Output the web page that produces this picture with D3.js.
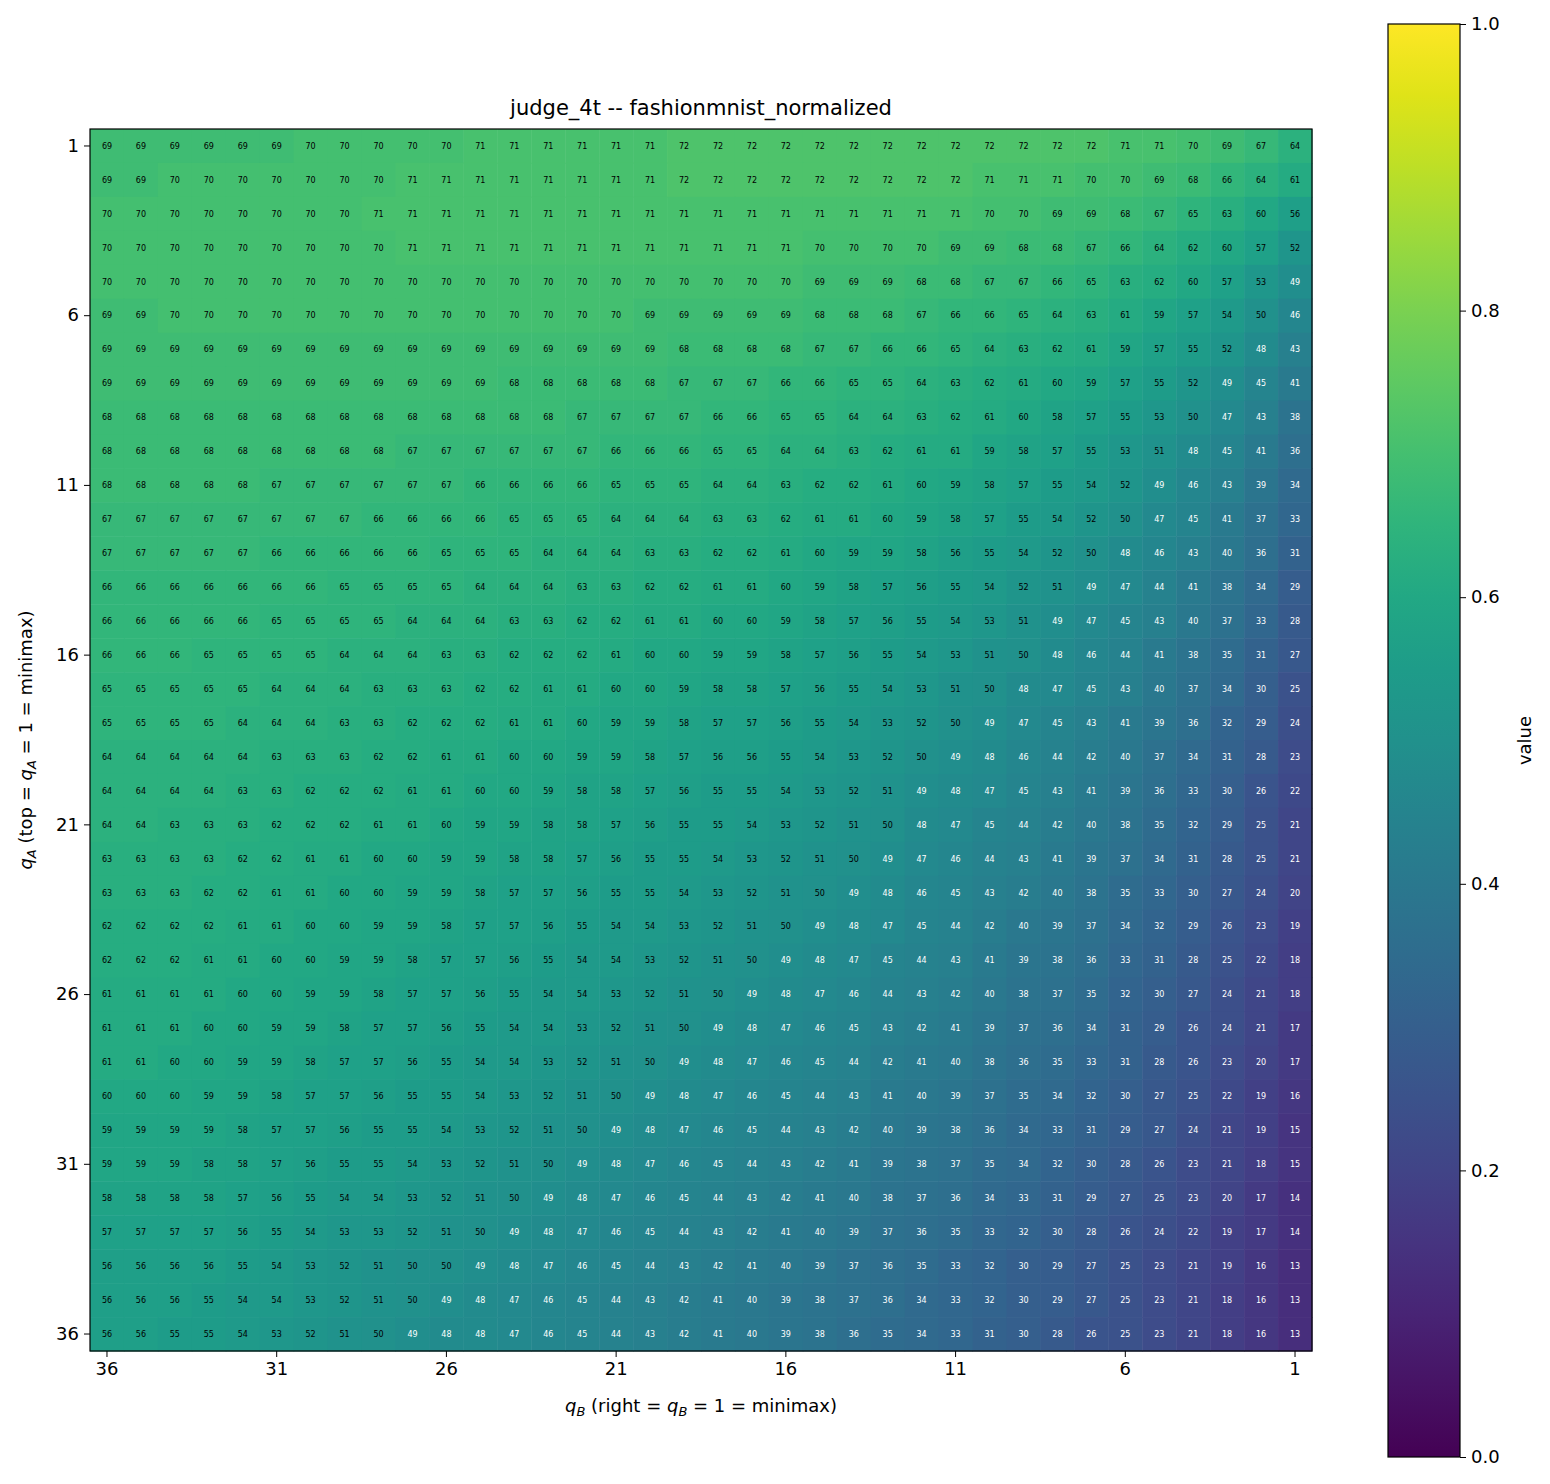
<!DOCTYPE html>
<html>
<head>
<meta charset="utf-8">
<script src="https://cdn.jsdelivr.net/npm/d3@7"></script>
<style>
  body { margin: 0; background: #fff; }
  text { font-family: "DejaVu Sans", sans-serif; }
</style>
</head>
<body>
<svg id="chart" width="1550" height="1484"></svg>
<script>
'use strict';

// qB labels left -> right, qA labels top -> bottom
var qB = d3.range(36, 0, -1);
var qA = d3.range(1, 37);

// values (percent), one string per qA row, columns qB = 36 .. 1
var rows = [
  "69 69 69 69 69 69 70 70 70 70 70 71 71 71 71 71 71 72 72 72 72 72 72 72 72 72 72 72 72 72 71 71 70 69 67 64",
  "69 69 70 70 70 70 70 70 70 71 71 71 71 71 71 71 71 72 72 72 72 72 72 72 72 72 71 71 71 70 70 69 68 66 64 61",
  "70 70 70 70 70 70 70 70 71 71 71 71 71 71 71 71 71 71 71 71 71 71 71 71 71 71 70 70 69 69 68 67 65 63 60 56",
  "70 70 70 70 70 70 70 70 70 71 71 71 71 71 71 71 71 71 71 71 71 70 70 70 70 69 69 68 68 67 66 64 62 60 57 52",
  "70 70 70 70 70 70 70 70 70 70 70 70 70 70 70 70 70 70 70 70 70 69 69 69 68 68 67 67 66 65 63 62 60 57 53 49",
  "69 69 70 70 70 70 70 70 70 70 70 70 70 70 70 70 69 69 69 69 69 68 68 68 67 66 66 65 64 63 61 59 57 54 50 46",
  "69 69 69 69 69 69 69 69 69 69 69 69 69 69 69 69 69 68 68 68 68 67 67 66 66 65 64 63 62 61 59 57 55 52 48 43",
  "69 69 69 69 69 69 69 69 69 69 69 69 68 68 68 68 68 67 67 67 66 66 65 65 64 63 62 61 60 59 57 55 52 49 45 41",
  "68 68 68 68 68 68 68 68 68 68 68 68 68 68 67 67 67 67 66 66 65 65 64 64 63 62 61 60 58 57 55 53 50 47 43 38",
  "68 68 68 68 68 68 68 68 68 67 67 67 67 67 67 66 66 66 65 65 64 64 63 62 61 61 59 58 57 55 53 51 48 45 41 36",
  "68 68 68 68 68 67 67 67 67 67 67 66 66 66 66 65 65 65 64 64 63 62 62 61 60 59 58 57 55 54 52 49 46 43 39 34",
  "67 67 67 67 67 67 67 67 66 66 66 66 65 65 65 64 64 64 63 63 62 61 61 60 59 58 57 55 54 52 50 47 45 41 37 33",
  "67 67 67 67 67 66 66 66 66 66 65 65 65 64 64 64 63 63 62 62 61 60 59 59 58 56 55 54 52 50 48 46 43 40 36 31",
  "66 66 66 66 66 66 66 65 65 65 65 64 64 64 63 63 62 62 61 61 60 59 58 57 56 55 54 52 51 49 47 44 41 38 34 29",
  "66 66 66 66 66 65 65 65 65 64 64 64 63 63 62 62 61 61 60 60 59 58 57 56 55 54 53 51 49 47 45 43 40 37 33 28",
  "66 66 66 65 65 65 65 64 64 64 63 63 62 62 62 61 60 60 59 59 58 57 56 55 54 53 51 50 48 46 44 41 38 35 31 27",
  "65 65 65 65 65 64 64 64 63 63 63 62 62 61 61 60 60 59 58 58 57 56 55 54 53 51 50 48 47 45 43 40 37 34 30 25",
  "65 65 65 65 64 64 64 63 63 62 62 62 61 61 60 59 59 58 57 57 56 55 54 53 52 50 49 47 45 43 41 39 36 32 29 24",
  "64 64 64 64 64 63 63 63 62 62 61 61 60 60 59 59 58 57 56 56 55 54 53 52 50 49 48 46 44 42 40 37 34 31 28 23",
  "64 64 64 64 63 63 62 62 62 61 61 60 60 59 58 58 57 56 55 55 54 53 52 51 49 48 47 45 43 41 39 36 33 30 26 22",
  "64 64 63 63 63 62 62 62 61 61 60 59 59 58 58 57 56 55 55 54 53 52 51 50 48 47 45 44 42 40 38 35 32 29 25 21",
  "63 63 63 63 62 62 61 61 60 60 59 59 58 58 57 56 55 55 54 53 52 51 50 49 47 46 44 43 41 39 37 34 31 28 25 21",
  "63 63 63 62 62 61 61 60 60 59 59 58 57 57 56 55 55 54 53 52 51 50 49 48 46 45 43 42 40 38 35 33 30 27 24 20",
  "62 62 62 62 61 61 60 60 59 59 58 57 57 56 55 54 54 53 52 51 50 49 48 47 45 44 42 40 39 37 34 32 29 26 23 19",
  "62 62 62 61 61 60 60 59 59 58 57 57 56 55 54 54 53 52 51 50 49 48 47 45 44 43 41 39 38 36 33 31 28 25 22 18",
  "61 61 61 61 60 60 59 59 58 57 57 56 55 54 54 53 52 51 50 49 48 47 46 44 43 42 40 38 37 35 32 30 27 24 21 18",
  "61 61 61 60 60 59 59 58 57 57 56 55 54 54 53 52 51 50 49 48 47 46 45 43 42 41 39 37 36 34 31 29 26 24 21 17",
  "61 61 60 60 59 59 58 57 57 56 55 54 54 53 52 51 50 49 48 47 46 45 44 42 41 40 38 36 35 33 31 28 26 23 20 17",
  "60 60 60 59 59 58 57 57 56 55 55 54 53 52 51 50 49 48 47 46 45 44 43 41 40 39 37 35 34 32 30 27 25 22 19 16",
  "59 59 59 59 58 57 57 56 55 55 54 53 52 51 50 49 48 47 46 45 44 43 42 40 39 38 36 34 33 31 29 27 24 21 19 15",
  "59 59 59 58 58 57 56 55 55 54 53 52 51 50 49 48 47 46 45 44 43 42 41 39 38 37 35 34 32 30 28 26 23 21 18 15",
  "58 58 58 58 57 56 55 54 54 53 52 51 50 49 48 47 46 45 44 43 42 41 40 38 37 36 34 33 31 29 27 25 23 20 17 14",
  "57 57 57 57 56 55 54 53 53 52 51 50 49 48 47 46 45 44 43 42 41 40 39 37 36 35 33 32 30 28 26 24 22 19 17 14",
  "56 56 56 56 55 54 53 52 51 50 50 49 48 47 46 45 44 43 42 41 40 39 37 36 35 33 32 30 29 27 25 23 21 19 16 13",
  "56 56 56 55 54 54 53 52 51 50 49 48 47 46 45 44 43 42 41 40 39 38 37 36 34 33 32 30 29 27 25 23 21 18 16 13",
  "56 56 55 55 54 53 52 51 50 49 48 48 47 46 45 44 43 42 41 40 39 38 36 35 34 33 31 30 28 26 25 23 21 18 16 13"
];

var xTicks = [36, 31, 26, 21, 16, 11, 6, 1];
var yTicks = [1, 6, 11, 16, 21, 26, 31, 36];
var cbTicks = [0, 0.2, 0.4, 0.6, 0.8, 1.0];

var cells = [];
rows.forEach(function (r, i) {
  r.split(" ").forEach(function (v, j) {
    cells.push({ a: qA[i], b: qB[j], v: +v });
  });
});

var svg = d3.select("#chart");
var plotLeft = 90, plotTop = 129, size = 1222;

var x = d3.scaleBand().domain(qB).range([plotLeft, plotLeft + size]);
var y = d3.scaleBand().domain(qA).range([plotTop, plotTop + size]);
var color = d3.scaleSequential(d3.interpolateViridis).domain([0, 1]);

svg.append("g").selectAll("rect")
  .data(cells).enter().append("rect")
  .attr("x", function (d) { return x(d.b); })
  .attr("y", function (d) { return y(d.a); })
  .attr("width", x.bandwidth() + 0.5)
  .attr("height", y.bandwidth() + 0.5)
  .attr("fill", function (d) { return color(d.v / 100); });

svg.append("g").selectAll("text")
  .data(cells).enter().append("text")
  .attr("x", function (d) { return x(d.b) + x.bandwidth() / 2; })
  .attr("y", function (d) { return y(d.a) + y.bandwidth() / 2; })
  .attr("dy", "0.35em")
  .attr("text-anchor", "middle")
  .attr("font-size", 8)
  .attr("fill", function (d) { return d.v < 50 ? "#fff" : "#000"; })
  .text(function (d) { return d.v; });

svg.append("rect")
  .attr("x", plotLeft).attr("y", plotTop).attr("width", size).attr("height", size)
  .attr("fill", "none").attr("stroke", "#000").attr("stroke-width", 1.2);

var xAxis = svg.append("g")
  .attr("transform", "translate(0," + (plotTop + size) + ")")
  .call(d3.axisBottom(x).tickValues(xTicks).tickSize(6).tickPadding(5));
var yAxis = svg.append("g")
  .attr("transform", "translate(" + plotLeft + ",0)")
  .call(d3.axisLeft(y).tickValues(yTicks).tickSize(6).tickPadding(5));
[xAxis, yAxis].forEach(function (g) {
  g.select(".domain").remove();
  g.selectAll("text").attr("font-size", 18).attr("font-family", "DejaVu Sans").attr("fill", "#000");
  g.selectAll("line").attr("stroke", "#000");
});

svg.append("text")
  .attr("x", plotLeft + size / 2).attr("y", 115)
  .attr("text-anchor", "middle").attr("font-size", 21)
  .text("judge_4t -- fashionmnist_normalized");

// x label
var xl = svg.append("text")
  .attr("x", plotLeft + size / 2).attr("y", 1412)
  .attr("text-anchor", "middle").attr("font-size", 18);
xl.append("tspan").attr("font-style", "italic").text("q");
xl.append("tspan").attr("font-size", 13).attr("font-style", "italic").attr("dy", 4).text("B");
xl.append("tspan").attr("dy", -4).text(" (right = ");
xl.append("tspan").attr("font-style", "italic").text("q");
xl.append("tspan").attr("font-size", 13).attr("font-style", "italic").attr("dy", 4).text("B");
xl.append("tspan").attr("dy", -4).text(" = 1 = minimax)");

// y label
var yl = svg.append("text")
  .attr("transform", "translate(32," + (plotTop + size / 2) + ") rotate(-90)")
  .attr("text-anchor", "middle").attr("font-size", 18);
yl.append("tspan").attr("font-style", "italic").text("q");
yl.append("tspan").attr("font-size", 13).attr("font-style", "italic").attr("dy", 4).text("A");
yl.append("tspan").attr("dy", -4).text(" (top = ");
yl.append("tspan").attr("font-style", "italic").text("q");
yl.append("tspan").attr("font-size", 13).attr("font-style", "italic").attr("dy", 4).text("A");
yl.append("tspan").attr("dy", -4).text(" = 1 = minimax)");

// colorbar
var cbX = 1388, cbW = 72, cbTop = 24, cbBot = 1457;
var grad = svg.append("defs").append("linearGradient")
  .attr("id", "vir").attr("x1", 0).attr("y1", 1).attr("x2", 0).attr("y2", 0);
d3.range(0, 1.0001, 0.05).forEach(function (t) {
  grad.append("stop").attr("offset", t).attr("stop-color", color(t));
});
svg.append("rect")
  .attr("x", cbX).attr("y", cbTop).attr("width", cbW).attr("height", cbBot - cbTop)
  .attr("fill", "url(#vir)").attr("stroke", "#000").attr("stroke-width", 1.2);
var cy = d3.scaleLinear().domain([0, 1]).range([cbBot, cbTop]);
var cAxis = svg.append("g")
  .attr("transform", "translate(" + (cbX + cbW) + ",0)")
  .call(d3.axisRight(cy).tickValues(cbTicks).tickFormat(d3.format(".1f")).tickSize(6).tickPadding(5));
cAxis.select(".domain").remove();
cAxis.selectAll("text").attr("font-size", 18).attr("font-family", "DejaVu Sans").attr("fill", "#000");
svg.append("text")
  .attr("transform", "translate(1531," + ((cbTop + cbBot) / 2) + ") rotate(-90)")
  .attr("text-anchor", "middle").attr("font-size", 18).text("value");
</script>
</body>
</html>
